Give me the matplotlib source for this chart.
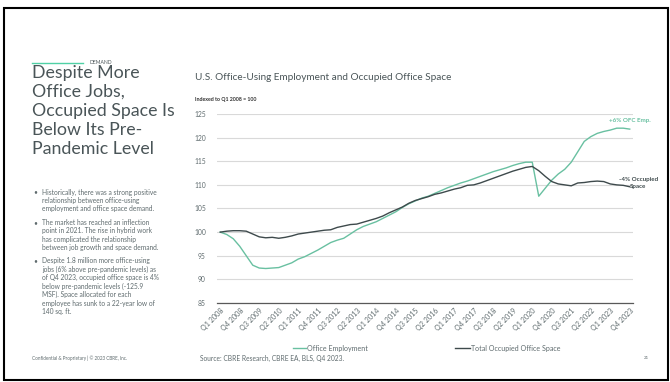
import numpy as np
import matplotlib.pyplot as plt
from matplotlib.patches import Rectangle
from matplotlib.lines import Line2D

plt.rcParams['font.family'] = ['Lato', 'DejaVu Sans']

# Quarterly index values, Q1 2008 = 100
quarters = [f"Q{q} {y}" for y in range(2008, 2024) for q in range(1, 5)]

office_employment = [
    100.0, 99.5, 98.6, 97.0, 95.0, 93.0, 92.4, 92.3, 92.4, 92.5,
    93.0, 93.5, 94.3, 94.8, 95.5, 96.2, 97.0, 97.8, 98.3, 98.7,
    99.6, 100.5, 101.2, 101.7, 102.2, 102.9, 103.6, 104.3, 105.2, 106.0,
    106.6, 107.2, 107.6, 108.2, 108.8, 109.4, 109.9, 110.4, 110.8, 111.3,
    111.8, 112.3, 112.8, 113.2, 113.6, 114.1, 114.5, 114.8, 114.8, 107.6,
    109.3, 111.0, 112.3, 113.3, 114.8, 117.0, 119.2, 120.2, 120.9, 121.3,
    121.6, 122.0, 122.0, 121.8,
]

occupied_space = [
    100.0, 100.2, 100.3, 100.3, 100.2, 99.6, 99.0, 98.8, 98.9, 98.7,
    98.9, 99.2, 99.6, 99.8, 100.0, 100.2, 100.4, 100.5, 101.0, 101.3,
    101.6, 101.7, 102.1, 102.5, 102.9, 103.4, 104.1, 104.7, 105.3, 106.1,
    106.7, 107.1, 107.5, 108.0, 108.3, 108.7, 109.1, 109.4, 109.9, 110.0,
    110.4, 110.9, 111.4, 111.9, 112.4, 112.9, 113.3, 113.7, 113.9, 113.0,
    111.8, 110.7, 110.2, 110.0, 109.8, 110.4, 110.5, 110.7, 110.8, 110.7,
    110.2, 110.0, 109.9, 109.6,
]

y_ticks = [85, 90, 95, 100, 105, 110, 115, 120, 125]

green = '#69c0a1'
dark = '#3e4a4c'
text_gray = '#5f6b6e'
title_gray = '#4a5558'

fig = plt.figure(figsize=(6.7, 3.82), dpi=100)


def fx(px):
    return px / 670


def fy(py):
    return 1 - py / 382


# slide frame
fig.patches.append(Rectangle((fx(4), fy(380)), fx(664), 372 / 382,
                             transform=fig.transFigure, fill=False,
                             edgecolor='black', linewidth=1.5))

# ---- left text panel ----
fig.add_artist(Line2D([fx(32), fx(83)], [fy(63), fy(63)],
                      transform=fig.transFigure, color='#4fd1a5', linewidth=1))
fig.text(fx(89), fy(63), "DEMAND", fontsize=3.6, color=title_gray,
         va='center')
fig.text(fx(32), fy(65),
         "Despite More\nOffice Jobs,\nOccupied Space Is\nBelow Its Pre-\nPandemic Level",
         fontsize=12.8, color=title_gray, va='top', linespacing=1.24)

bullets = [
    "Historically, there was a strong positive\nrelationship between office-using\nemployment and office space demand.",
    "The market has reached an inflection\npoint in 2021. The rise in hybrid work\nhas complicated the relationship\nbetween job growth and space demand.",
    "Despite 1.8 million more office-using\njobs (6% above pre-pandemic levels) as\nof Q4 2023, occupied office space is 4%\nbelow pre-pandemic levels (-125.9\nMSF). Space allocated for each\nemployee has sunk to a 22-year low of\n140 sq. ft.",
]
bullet_tops = [188.5, 219, 257.5]
for txt, top in zip(bullets, bullet_tops):
    fig.text(fx(33), fy(top), "\u2022", fontsize=4.8, color=text_gray,
             va='top')
    fig.text(fx(42), fy(top), txt, fontsize=4.8, color=text_gray,
             va='top', linespacing=1.22)

fig.text(fx(32), fy(358),
         "Confidential & Proprietary | \u00a9 2023 CBRE, Inc.",
         fontsize=3.3, color=text_gray, va='center')

# ---- chart ----
fig.text(fx(195), fy(78),
         "U.S. Office-Using Employment and Occupied Office Space",
         fontsize=7.2, color=title_gray, va='center')
fig.text(fx(195), fy(99), "Indexed to Q1 2008 = 100",
         fontsize=3.8, color='#333333', va='center', fontweight='bold')

ax = fig.add_axes([fx(217), fy(303), fx(416), 189 / 382])
x = np.arange(len(quarters))
ax.plot(x, office_employment, color=green, linewidth=1.0)
ax.plot(x, occupied_space, color=dark, linewidth=1.0)

ax.set_xlim(-0.5, len(quarters) - 0.5)
ax.set_ylim(85, 125)
ax.set_yticks(y_ticks)
ax.yaxis.grid(True, color='#d9d9d9', linewidth=0.8)
ax.set_axisbelow(True)
for side in ['top', 'right', 'left']:
    ax.spines[side].set_visible(False)
ax.spines['bottom'].set_color('#595959')
ax.spines['bottom'].set_linewidth(0.9)

ax.set_xticks(x[::3])
ax.set_xticklabels(quarters[::3], rotation=45, ha='right',
                   rotation_mode='anchor', fontsize=5.1, color=text_gray)
ax.tick_params(axis='x', length=0, pad=3)
ax.tick_params(axis='y', length=0, labelsize=4.9, labelcolor=text_gray, pad=8)

# end-of-series callouts
ax.annotate("+6% OFC Emp.", xy=(x[-1], office_employment[-1]),
            xytext=(0, 6), textcoords='offset points', ha='center',
            va='center', fontsize=4.5, color=green, fontweight='bold',
            annotation_clip=False)
ax.annotate("-4% Occupied\nSpace", xy=(x[-1], occupied_space[-1]),
            xytext=(6, 2.8), textcoords='offset points', ha='center',
            va='center', fontsize=4.5, color=dark, fontweight='bold',
            linespacing=1.5, annotation_clip=False)

# legend row below the axis
fig.add_artist(Line2D([fx(293), fx(306)], [fy(348)] * 2,
                      transform=fig.transFigure, color=green, linewidth=1))
fig.text(fx(307), fy(348), "Office Employment", fontsize=5.1,
         color=text_gray, va='center')
fig.add_artist(Line2D([fx(455), fx(470)], [fy(348)] * 2,
                      transform=fig.transFigure, color=dark, linewidth=1))
fig.text(fx(471), fy(348), "Total Occupied Office Space", fontsize=5.1,
         color=text_gray, va='center')

fig.text(fx(200), fy(358), "Source: CBRE Research, CBRE EA, BLS, Q4 2023.",
         fontsize=4.8, color=text_gray, va='center')
fig.text(fx(644), fy(358), "21", fontsize=3.2, color=text_gray,
         va='center')

plt.savefig("out.png", dpi=100)
